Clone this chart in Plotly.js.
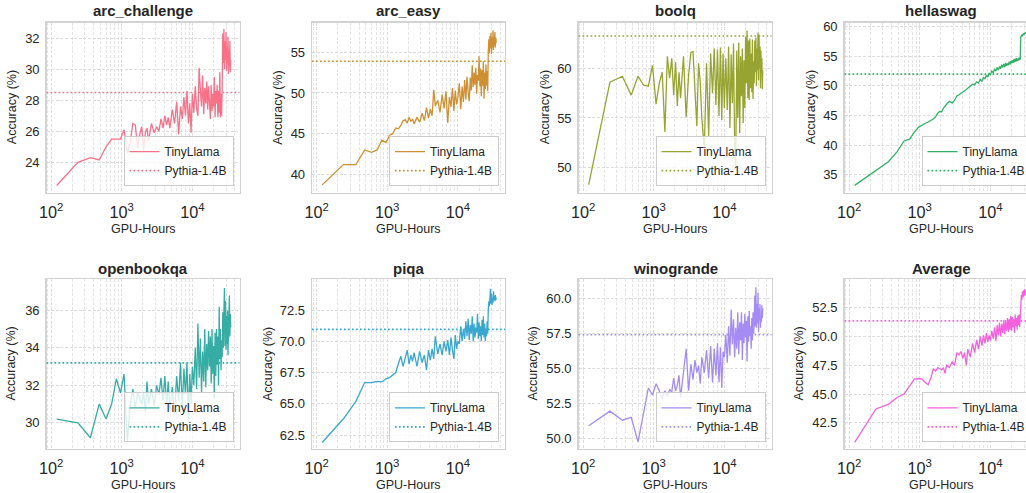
<!DOCTYPE html>
<html><head><meta charset="utf-8">
<script src="https://cdn.plot.ly/plotly-3.0.1.min.js"></script>
<style>html,body{margin:0;padding:0;overflow:hidden;background:#fff}#chart{width:1050px;height:493px}</style>
</head><body><div id="chart"></div><script>
// ---------------- DATA ----------------
const GPU_HOURS = [120,240,360,480,600,720,840,960,1080,1200,
  1320,1440,1560,1680,1800,1920,2040,2160,2280,2400,
  2640,2880,3120,3360,3600,3840,4080,4320,4560,4800,
  5200,5600,6000,6400,6800,7200,7600,8000,8400,8800,
  9200,9600,10000,
  10500,11000,11500,12000,12500,13000,13500,14000,14500,15000,
  15500,16000,16500,17000,17500,18000,18500,19000,19500,20000,
  20500,21000,21500,22000,22500,23000,23500,24000,24500,25000,
  25500,26000,26500,27000,27500,28000,28500,29000,29500,30000,
  30500,31000,31500,32000,32500,33000,33500,34000,34500,35000];

const TASKS = ['arc_challenge','arc_easy','boolq','hellaswag','openbookqa','piqa','winogrande','Average'];

const ARC_CHALLENGE = [22.5,24.0,24.3,24.15,25.0,25.5,25.5,25.5,26.1,24.6,
  25.3,26.5,26.4,24.9,25.8,26.3,24.8,25.9,26.2,25.4,
  26.5,25.9,26.3,26.0,26.8,26.2,27.0,26.4,26.9,26.2,
  27.4,26.5,27.9,25.8,27.6,26.8,28.2,27.0,28.6,26.5,
  27.8,25.9,28.4,
  27.2,28.9,27.5,27.0,30.1,28.7,27.6,29.6,27.1,28.8,
  27.8,29.2,27.4,28.9,27.9,26.8,29.0,27.3,28.4,27.6,
  29.5,26.9,28.6,27.8,29.0,26.9,28.6,27.2,29.8,26.9,
  28.4,27.0,28.9,32.3,30.4,32.6,30.0,31.8,30.6,32.4,
  29.9,31.5,30.3,32.1,29.7,31.2,30.2,31.8,29.8,30.6];

const ARC_EASY = [38.7,41.2,41.2,43.0,42.7,43.0,44.2,43.9,44.8,45.0,
  45.7,45.6,46.0,46.6,46.7,46.3,47.0,46.5,46.8,46.2,
  47.0,46.4,47.5,46.6,48.2,46.9,48.0,47.2,50.4,48.4,
  49.1,47.6,49.8,48.1,50.2,46.3,49.5,48.3,50.6,47.8,
  50.3,48.6,49.4,
  51.2,48.0,50.8,48.9,51.6,49.2,52.0,50.1,49.0,51.9,
  50.3,53.4,50.7,52.5,51.0,53.1,49.9,52.2,51.5,54.5,
  50.8,53.0,49.6,52.8,50.9,53.9,49.3,52.5,50.5,53.5,
  50.9,52.7,50.2,55.2,56.6,54.9,57.0,55.5,57.4,54.8,
  56.8,55.6,57.7,55.3,56.9,55.8,57.5,55.6,56.8,56.2];

const BOOLQ = [48.3,58.6,59.2,57.3,59.2,58.3,58.2,60.3,56.4,58.5,
  59.6,53.6,61.2,59.0,61.0,57.3,60.6,56.2,59.6,57.0,
  61.2,55.1,59.3,61.6,61.7,57.0,54.2,60.5,58.6,55.0,
  51.8,60.5,53.2,61.5,57.5,62.0,56.3,61.9,55.2,62.1,
  54.8,61.5,56.0,
  61.0,55.8,62.2,54.0,61.4,56.5,62.5,52.1,50.0,61.8,
  55.0,62.6,53.5,61.2,57.2,62.0,54.5,60.8,56.0,63.2,
  58.5,63.8,57.0,62.8,56.8,63.0,58.0,61.5,57.6,62.9,
  56.9,60.7,58.5,62.8,59.6,63.1,58.2,62.0,59.8,63.6,
  58.8,63.4,60.0,62.2,58.0,61.8,59.5,61.0,57.9,59.8];

const HELLASWAG = [33.2,35.8,37.2,38.9,40.7,41.0,42.2,43.0,43.4,43.7,
  43.9,44.1,44.4,44.8,45.4,45.7,45.6,46.2,46.6,46.9,
  47.4,47.1,47.6,48.3,48.5,48.7,49.0,49.2,49.4,49.6,
  49.9,50.3,50.2,50.7,50.5,51.1,50.8,51.4,51.2,51.8,
  51.5,52.1,51.9,
  52.5,52.2,52.9,52.5,53.1,52.7,53.3,52.9,53.6,53.1,
  53.7,53.2,53.9,53.4,53.8,53.5,54.1,53.6,54.2,53.8,
  54.3,53.9,54.5,54.0,54.6,54.1,54.7,54.2,54.6,54.3,
  54.8,54.4,54.6,58.3,58.5,58.6,58.5,58.7,58.8,58.7,
  58.9,58.8,59.0,58.9,59.0,58.9,59.1,59.0,59.1,59.0];

const OPENBOOKQA = [30.2,30.0,29.2,31.0,30.2,31.0,32.35,31.6,32.6,29.0,
  30.9,31.8,30.8,31.6,31.3,31.0,31.6,30.6,32.2,31.0,
  31.8,30.9,32.0,31.5,32.4,31.2,32.5,31.0,32.2,30.7,
  31.9,30.5,32.5,31.2,33.2,30.8,32.9,31.5,33.2,30.2,
  32.6,31.0,33.0,
  32.0,34.0,31.8,35.3,32.4,34.5,31.6,33.8,32.2,35.0,
  31.9,34.2,32.8,34.9,33.0,34.6,32.1,35.0,32.6,34.1,
  31.3,34.8,32.5,35.0,33.1,34.6,32.0,36.2,33.4,35.0,
  32.8,34.4,33.5,35.9,34.0,36.0,37.2,34.1,36.5,33.9,
  35.7,34.2,36.0,33.6,35.2,34.5,36.8,34.6,35.8,35.1];

const PIQA = [61.9,63.8,65.2,66.7,66.7,66.8,66.75,67.0,67.1,67.3,
  67.5,68.2,68.8,68.0,68.7,69.3,68.2,68.9,68.4,69.1,
  68.0,69.2,68.3,68.9,67.7,69.3,68.5,69.4,68.6,70.4,
  69.0,69.8,68.9,70.0,69.2,70.1,68.9,70.3,69.3,68.6,
  70.5,69.4,70.0,
  69.8,71.2,70.0,71.0,70.2,71.6,70.4,71.8,70.1,71.3,
  70.6,72.0,70.0,71.4,70.3,71.1,70.7,72.2,70.2,71.5,
  70.4,71.2,70.0,71.7,70.5,72.0,70.3,71.4,70.0,71.0,
  70.4,71.6,70.6,72.5,73.2,72.8,73.6,74.2,73.0,73.8,
  72.9,73.5,73.1,74.0,73.3,73.6,73.2,73.7,73.3,73.5];

const WINOGRANDE = [50.9,51.95,51.3,51.5,49.75,51.8,53.6,53.1,53.9,53.4,
  52.8,53.4,53.0,53.5,53.3,54.3,53.4,53.8,54.5,52.9,
  54.6,56.4,53.4,55.3,54.2,55.6,54.7,55.2,53.9,55.8,
  54.7,56.3,54.3,56.6,54.0,56.4,54.5,56.8,54.0,56.5,
  53.6,56.2,55.8,
  57.4,55.4,58.0,55.9,59.2,56.7,58.5,55.8,57.9,56.4,
  59.0,56.0,58.3,57.0,59.0,55.6,58.2,56.8,58.9,57.2,
  58.4,55.5,58.7,56.9,59.1,57.3,58.0,56.4,58.6,57.0,
  59.0,57.5,58.3,60.2,58.0,60.8,57.9,59.6,58.2,60.4,
  57.6,59.3,58.4,59.6,57.9,58.8,58.3,59.5,58.6,59.3];

const AVERAGE = [40.8,43.7,44.1,44.7,45.0,45.7,46.3,46.35,46.3,46.0,
  45.8,46.4,47.2,47.0,47.3,47.2,47.1,47.3,46.8,47.5,
  47.3,47.8,47.5,48.6,48.4,48.7,48.1,48.6,47.5,48.9,
  48.2,49.4,48.6,49.7,48.9,50.0,49.2,50.1,49.4,50.3,
  49.5,50.1,49.6,
  50.5,49.8,50.8,49.6,51.0,50.1,51.2,50.0,51.1,50.3,
  51.4,50.2,51.3,50.5,51.6,50.4,51.5,50.6,51.8,50.5,
  51.7,50.8,51.5,50.3,51.9,50.9,51.6,50.6,51.8,51.0,
  51.9,50.8,51.5,53.0,53.6,53.2,53.9,53.4,54.0,53.5,
  54.1,53.6,54.0,53.7,54.2,53.8,54.0,53.9,54.1,53.9];

const PYTHIA_1_4B = [28.5, 53.9, 63.25, 52.0, 33.2, 70.95, 57.4, 51.35];
const SERIES = [ARC_CHALLENGE, ARC_EASY, BOOLQ, HELLASWAG, OPENBOOKQA, PIQA, WINOGRANDE, AVERAGE];

// ---------------- STYLE ----------------
const COLORS = ['#f77189','#ce9032','#97a431','#32b166','#36ada4','#39a7d0','#a48cf4','#f561dd'];
const Y_RANGES = [[22.04,33.0],[37.74,58.64],[47.48,64.59],[31.96,60.68],[28.61,37.66],[61.4,74.96],[49.26,61.36],[40.24,54.97]];
const Y_DTICK = [2,5,5,5,2,2.5,2.5,2.5];
const Y_FMT = ['','','','','','.1f','.1f','.1f'];
const YTITLE_OFF = [35,34,34,34,35,44,45,45];

const W = 1050, H = 493;
const COL_LEFT = [46.5, 312, 578.5, 844.5], PLOT_W = 193;
const ROW_TOP = [22.7, 279.3], PLOT_H = [170, 169.5];
const TITLE_Y = [11, 268.7], XTITLE_Y = [229.3, 485.3];
const FONT = 'Arial, "Liberation Sans", sans-serif';
const TXT = '#262626';
const GRID = {showgrid: true, gridcolor: '#d4d4d4', griddash: '3px,1.6px', gridwidth: 0.8};

const traces = [], shapes = [], annotations = [];
const layout = {
  width: W, height: H, margin: {l:0, r:0, t:0, b:0},
  paper_bgcolor: '#ffffff', plot_bgcolor: '#ffffff',
  font: {family: FONT, color: TXT, size: 13},
  showlegend: true
};

TASKS.forEach((task, i) => {
  const r = Math.floor(i / 4), c = i % 4, s = i ? String(i + 1) : '';
  const L = COL_LEFT[c], T = ROW_TOP[r], B = T + PLOT_H[r];
  const lg = 'legend' + s;
  layout['xaxis' + s] = Object.assign({
    domain: [L / W, (L + PLOT_W) / W], anchor: 'y' + s,
    type: 'log', range: [1.935, 4.668], dtick: 1, exponentformat: 'power',
    minor: {dtick: 'D1', showgrid: true, gridcolor: '#dadada', griddash: '3px,1.6px', gridwidth: 0.7, ticks: ''},
    showline: true, mirror: true, linecolor: '#d3d3d3', linewidth: 1.3,
    ticks: '', ticklabelstandoff: 5, zeroline: false, tickfont: {size: 13, color: TXT}
  }, GRID);
  layout['yaxis' + s] = Object.assign({
    domain: [1 - B / H, 1 - T / H], anchor: 'x' + s,
    range: Y_RANGES[i], dtick: Y_DTICK[i], tickformat: Y_FMT[i],
    showline: true, mirror: true, linecolor: '#d3d3d3', linewidth: 1.3,
    ticks: '', ticklabelstandoff: 3, zeroline: false, tickfont: {size: 13, color: TXT}
  }, GRID);
  layout[lg] = {
    x: (L + PLOT_W - 6) / W, y: 1 - (B - 6.5) / H, xanchor: 'right', yanchor: 'bottom',
    bgcolor: 'rgba(255,255,255,0.8)', bordercolor: '#cccccc', borderwidth: 1,
    font: {size: 12, color: TXT, family: FONT}, itemwidth: 30, tracegroupgap: 0
  };
  traces.push({
    type: 'scatter', mode: 'lines', x: GPU_HOURS, y: SERIES[i],
    xaxis: 'x' + s, yaxis: 'y' + s, name: 'TinyLlama', legend: lg,
    line: {color: COLORS[i], width: 1.3}, hoverinfo: 'skip'
  });
  shapes.push({
    type: 'line', xref: 'x' + s + ' domain', x0: 0, x1: 1,
    yref: 'y' + s, y0: PYTHIA_1_4B[i], y1: PYTHIA_1_4B[i],
    line: {color: COLORS[i], width: 1.7, dash: '1.7px,2.3px'}, layer: 'above',
    showlegend: true, name: 'Pythia-1.4B', legend: lg
  });
  annotations.push({
    text: '<b>' + task + '</b>', xref: 'paper', yref: 'paper',
    x: (L + PLOT_W / 2) / W, y: 1 - TITLE_Y[r] / H, xanchor: 'center', yanchor: 'middle',
    showarrow: false, font: {size: 15, color: TXT, family: FONT}
  });
  annotations.push({
    text: 'GPU-Hours', xref: 'paper', yref: 'paper',
    x: (L + PLOT_W / 2) / W, y: 1 - XTITLE_Y[r] / H, xanchor: 'center', yanchor: 'middle',
    showarrow: false, font: {size: 12.5, color: TXT, family: FONT}
  });
  annotations.push({
    text: 'Accuracy (%)', xref: 'paper', yref: 'paper', textangle: -90,
    x: (L - YTITLE_OFF[i]) / W, y: 1 - (T + B) / 2 / H, xanchor: 'center', yanchor: 'middle',
    showarrow: false, font: {size: 12.5, color: TXT, family: FONT}
  });
});

layout.shapes = shapes;
layout.annotations = annotations;

Plotly.newPlot('chart', traces, layout, {staticPlot: true, displayModeBar: false});
</script></body></html>
